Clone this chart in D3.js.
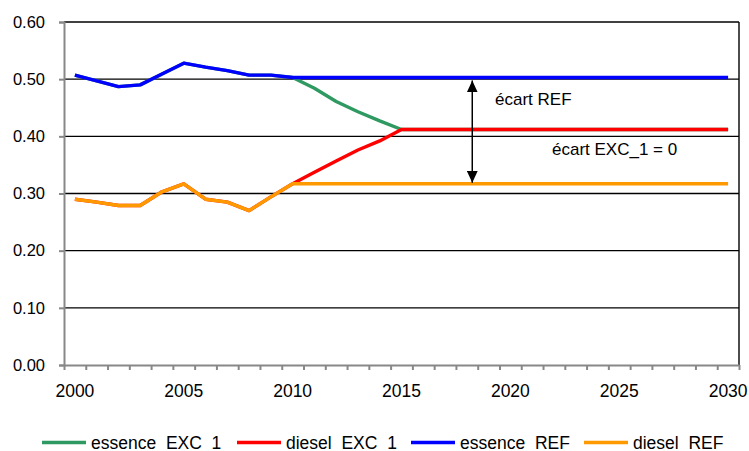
<!DOCTYPE html>
<html>
<head>
<meta charset="utf-8">
<script src="https://cdn.jsdelivr.net/npm/d3@7/dist/d3.min.js"></script>
<style>
  html, body { margin: 0; padding: 0; background: #fff; }
  svg { display: block; font-family: "Liberation Sans", Arial, sans-serif; }
</style>
</head>
<body>
<svg id="chart" width="749" height="451"></svg>
<script>
// Years on the category axis
const years = [2000, 2001, 2002, 2003, 2004, 2005, 2006, 2007, 2008, 2009, 2010,
  2011, 2012, 2013, 2014, 2015, 2016, 2017, 2018, 2019, 2020,
  2021, 2022, 2023, 2024, 2025, 2026, 2027, 2028, 2029, 2030];

// Series values, one per year
const essenceEXC1 = [0.507, 0.497, 0.487, 0.490, 0.509, 0.528, 0.521, 0.515, 0.507, 0.507, 0.503,
  0.484, 0.461, 0.443, 0.427, 0.412, 0.412, 0.412, 0.412, 0.412, 0.412,
  0.412, 0.412, 0.412, 0.412, 0.412, 0.412, 0.412, 0.412, 0.412, 0.412];
const dieselEXC1 = [0.290, 0.285, 0.279, 0.279, 0.303, 0.317, 0.290, 0.285, 0.270, 0.294, 0.317,
  0.337, 0.357, 0.376, 0.392, 0.412, 0.412, 0.412, 0.412, 0.412, 0.412,
  0.412, 0.412, 0.412, 0.412, 0.412, 0.412, 0.412, 0.412, 0.412, 0.412];
const essenceREF = [0.507, 0.497, 0.487, 0.490, 0.509, 0.528, 0.521, 0.515, 0.507, 0.507, 0.503,
  0.503, 0.503, 0.503, 0.503, 0.503, 0.503, 0.503, 0.503, 0.503, 0.503,
  0.503, 0.503, 0.503, 0.503, 0.503, 0.503, 0.503, 0.503, 0.503, 0.503];
const dieselREF = [0.290, 0.285, 0.279, 0.279, 0.303, 0.317, 0.290, 0.285, 0.270, 0.294, 0.317,
  0.317, 0.317, 0.317, 0.317, 0.317, 0.317, 0.317, 0.317, 0.317, 0.317,
  0.317, 0.317, 0.317, 0.317, 0.317, 0.317, 0.317, 0.317, 0.317, 0.317];

const seriesNames = ["essence  EXC  1", "diesel  EXC  1", "essence  REF", "diesel  REF"];
const seriesColors = ["#2e9960", "#ff0000", "#0000ff", "#ff9900"];
const seriesValues = [essenceEXC1, dieselEXC1, essenceREF, dieselREF];

const yTicks = [0, 0.1, 0.2, 0.3, 0.4, 0.5, 0.6];
const xLabelYears = [2000, 2005, 2010, 2015, 2020, 2025, 2030];

// Annotation: gap between REF series, drawn at this year position
const gapYear = 2018.25;
const gapTop = 0.503, gapBottom = 0.317;
const gapLabel = "écart REF";
const zeroLabel = "écart EXC_1 = 0";

const svg = d3.select("#chart");
const plotLeft = 64, plotRight = 739, plotTop = 22, plotBottom = 365;

const x = d3.scaleBand().domain(years).range([plotLeft, plotRight]).padding(0);
const xEdge = d3.scaleLinear().domain([years[0] - 0.5, years[years.length - 1] + 0.5]).range([plotLeft, plotRight]);
const y = d3.scaleLinear().domain([0, 0.6]).range([plotBottom, plotTop]);

// Horizontal gridlines
svg.append("g")
  .selectAll("line")
  .data(yTicks.filter(t => t > 0))
  .join("line")
  .attr("x1", plotLeft).attr("x2", plotRight)
  .attr("y1", d => y(d)).attr("y2", d => y(d))
  .attr("stroke", "#000").attr("stroke-width", 1.4);

// Right border of the plot area
svg.append("line")
  .attr("x1", plotRight).attr("x2", plotRight)
  .attr("y1", plotTop).attr("y2", plotBottom)
  .attr("stroke", "#000").attr("stroke-width", 1.4);

// Y axis
const yAxis = svg.append("g")
  .attr("transform", `translate(${plotLeft},0)`)
  .call(d3.axisLeft(y).tickValues(yTicks).tickFormat(d3.format(".2f")).tickSize(5).tickPadding(14));
yAxis.select(".domain").attr("stroke", "#888").attr("stroke-width", 2);
yAxis.selectAll(".tick line").attr("stroke", "#888").attr("stroke-width", 2);
yAxis.selectAll("text").attr("font-size", 16.5).attr("fill", "#000")
  .attr("font-family", "Liberation Sans, Arial, sans-serif");

// X axis: tick marks on category edges
const xTickAxis = svg.append("g")
  .attr("transform", `translate(0,${plotBottom})`)
  .call(d3.axisBottom(xEdge).tickValues(d3.range(years.length + 1).map(i => years[0] - 0.5 + i))
    .tickFormat("").tickSize(5).tickSizeOuter(0));
xTickAxis.select(".domain").attr("stroke", "#888").attr("stroke-width", 2);
xTickAxis.selectAll(".tick line").attr("stroke", "#888").attr("stroke-width", 2);

// X axis labels at category centres
const xLabelAxis = svg.append("g")
  .attr("transform", `translate(0,${plotBottom})`)
  .call(d3.axisBottom(x).tickValues(xLabelYears).tickSize(0).tickPadding(20));
xLabelAxis.select(".domain").remove();
xLabelAxis.selectAll("text").attr("font-size", 17.5).attr("fill", "#000")
  .attr("font-family", "Liberation Sans, Arial, sans-serif");

// Series lines
const line = d3.line()
  .x((d, i) => x(years[i]) + x.bandwidth() / 2)
  .y(d => y(d));

svg.append("g")
  .selectAll("path")
  .data(seriesValues)
  .join("path")
  .attr("d", d => line(d))
  .attr("fill", "none")
  .attr("stroke", (d, i) => seriesColors[i])
  .attr("stroke-width", 3.4)
  .attr("stroke-linejoin", "round");

// Double-headed arrow between the REF series
const ax = xEdge(gapYear);
const defs = svg.append("defs");
defs.append("marker")
  .attr("id", "head")
  .attr("viewBox", "0 0 10 10")
  .attr("refX", 10).attr("refY", 5)
  .attr("markerWidth", 12).attr("markerHeight", 11)
  .attr("markerUnits", "userSpaceOnUse")
  .attr("orient", "auto-start-reverse")
  .attr("preserveAspectRatio", "none")
  .append("path").attr("d", "M0,0 L10,5 L0,10 Z").attr("fill", "#000");

svg.append("line")
  .attr("x1", ax).attr("x2", ax)
  .attr("y1", y(gapTop) + 3).attr("y2", y(gapBottom) - 1)
  .attr("stroke", "#000").attr("stroke-width", 1.5)
  .attr("marker-start", "url(#head)")
  .attr("marker-end", "url(#head)");

svg.append("text")
  .attr("x", 495).attr("y", 105)
  .attr("font-size", 17).attr("fill", "#000")
  .text(gapLabel);

svg.append("text")
  .attr("x", 552).attr("y", 155)
  .attr("font-size", 17).attr("fill", "#000")
  .text(zeroLabel);

// Legend
const legendX = [42, 237, 411, 584];
const legend = svg.append("g");
seriesNames.forEach((name, i) => {
  legend.append("line")
    .attr("x1", legendX[i]).attr("x2", legendX[i] + 44)
    .attr("y1", 442.5).attr("y2", 442.5)
    .attr("stroke", seriesColors[i]).attr("stroke-width", 3.6);
  legend.append("text")
    .attr("x", legendX[i] + 49).attr("y", 448.5)
    .attr("font-size", 17.5).attr("fill", "#000")
    .attr("xml:space", "preserve")
    .style("white-space", "pre")
    .text(name);
});
</script>
</body>
</html>
